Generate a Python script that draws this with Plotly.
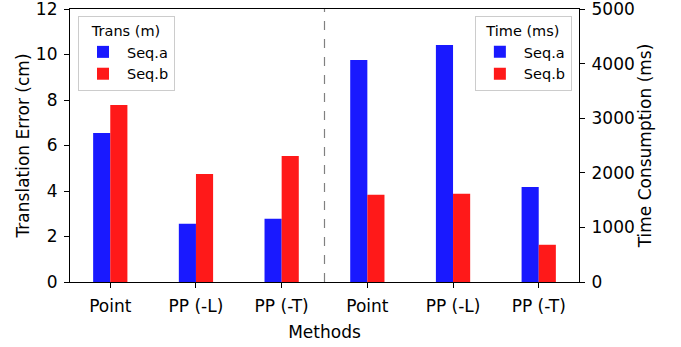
import plotly.graph_objects as go

methods = ["Point", "PP (-L)", "PP (-T)"]
trans_seq_a = [6.55, 2.56, 2.78]
trans_seq_b = [7.78, 4.75, 5.54]
time_seq_a = [4067, 4342, 1738]
time_seq_b = [1597, 1615, 682]

trans_x = [0, 1, 2]
time_x = [3, 4, 5]
tick_labels = methods + methods
trans_ticks = [0, 2, 4, 6, 8, 10, 12]
time_ticks = [0, 1000, 2000, 3000, 4000, 5000]
divider_x = 2.5

BLUE = "rgba(0,0,255,0.9)"
RED = "rgba(255,0,0,0.9)"
FONT = "DejaVu Sans"
FS = 17
LFS = 14.5

fig = go.Figure()
fig.add_trace(go.Bar(x=trans_x, y=trans_seq_a, name="Seq.a", marker_color=BLUE,
                     marker_line_width=0, width=0.2, offset=-0.2, legend="legend", yaxis="y"))
fig.add_trace(go.Bar(x=trans_x, y=trans_seq_b, name="Seq.b", marker_color=RED,
                     marker_line_width=0, width=0.2, offset=0.0, legend="legend", yaxis="y"))
fig.add_trace(go.Bar(x=time_x, y=time_seq_a, name="Seq.a", marker_color=BLUE,
                     marker_line_width=0, width=0.2, offset=-0.2, legend="legend2", yaxis="y2"))
fig.add_trace(go.Bar(x=time_x, y=time_seq_b, name="Seq.b", marker_color=RED,
                     marker_line_width=0, width=0.2, offset=0.0, legend="legend2", yaxis="y2"))

fig.add_shape(type="line", x0=divider_x, x1=divider_x, y0=0, y1=1, xref="x", yref="paper",
              line=dict(color="gray", width=1.2, dash="dash"), layer="below")

axis_common = dict(showline=True, linecolor="black", linewidth=1.2, ticks="outside",
                   ticklen=5, tickwidth=1.2, tickcolor="black", showgrid=False, zeroline=False,
                   automargin=False, ticklabelstandoff=3, ticklabeloverflow="allow",
                   tickfont=dict(family=FONT, size=FS, color="black"))

fig.update_layout(
    template="none",
    width=681, height=347,
    margin=dict(l=70, r=102, t=9, b=65, autoexpand=False),
    plot_bgcolor="white", paper_bgcolor="white",
    font=dict(family=FONT, size=FS, color="black"),
    barmode="overlay",
    xaxis=dict(range=[-0.47, 5.47], tickvals=trans_x + time_x, ticktext=tick_labels,
               mirror=True, title=dict(text="Methods", font=dict(family=FONT, size=FS), standoff=11),
               **axis_common),
    yaxis=dict(range=[0, 12.001], tickvals=trans_ticks,
               title=dict(text="Translation Error (cm)", font=dict(family=FONT, size=FS), standoff=1),
               **axis_common),
    yaxis2=dict(range=[0, 5000.4], tickvals=time_ticks, overlaying="y",
                side="right", anchor="x",
                title=dict(text="Time Consumption (ms)", font=dict(family=FONT, size=FS), standoff=4),
                **axis_common),
    legend=dict(x=0.0157, y=0.974, xanchor="left", yanchor="top",
                bgcolor="rgba(255,255,255,0.8)", bordercolor="#cccccc", borderwidth=1,
                font=dict(family=FONT, size=LFS), title=dict(text="Trans (m)", side="top center",
                font=dict(family=FONT, size=LFS)), itemwidth=38, tracegroupgap=0),
    legend2=dict(x=0.986, y=0.974, xanchor="right", yanchor="top",
                 bgcolor="rgba(255,255,255,0.8)", bordercolor="#cccccc", borderwidth=1,
                 font=dict(family=FONT, size=LFS), title=dict(text="Time (ms)", side="top center",
                 font=dict(family=FONT, size=LFS)), itemwidth=38, tracegroupgap=0),
    showlegend=True,
)

fig.write_html("out.html", config={"displayModeBar": False},
               post_script="document.body.style.margin='0';document.body.style.overflow='hidden';")
